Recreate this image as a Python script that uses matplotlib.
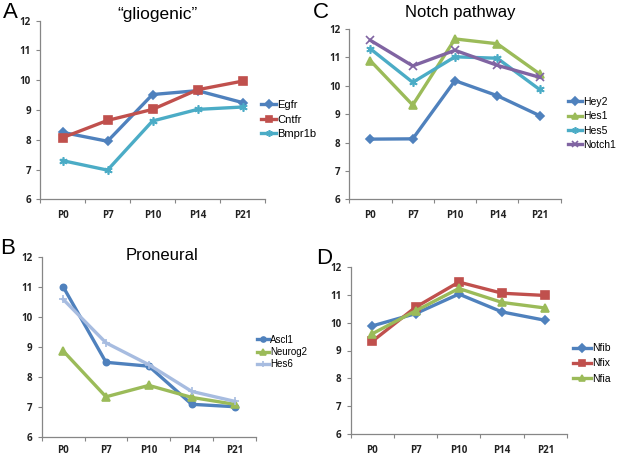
import matplotlib
matplotlib.use("Agg")
import matplotlib.pyplot as plt
from matplotlib.ticker import FixedLocator, NullFormatter, FixedFormatter

plt.rcParams['font.family'] = ['Liberation Sans', 'DejaVu Sans']

categories = ["P0", "P7", "P10", "P14", "P21"]

# Panel A - "gliogenic"
egfr = [8.25, 7.95, 9.52, 9.65, 9.25]
cntfr = [8.07, 8.65, 9.02, 9.68, 9.97]
bmpr1b = [7.30, 6.98, 8.63, 9.02, 9.10]

# Panel C - Notch pathway
hey2 = [8.12, 8.13, 10.18, 9.65, 8.95]
hes1 = [10.88, 9.32, 11.65, 11.48, 10.42]
hes5 = [11.30, 10.12, 11.02, 10.97, 9.87]
notch1 = [11.60, 10.70, 11.25, 10.72, 10.30]

# Panel B - Proneural
ascl1 = [11.02, 8.50, 8.37, 7.10, 7.02]
neurog2 = [8.88, 7.35, 7.73, 7.33, 7.10]
hes6 = [10.60, 9.15, 8.42, 7.53, 7.20]

# Panel D
nfib = [9.88, 10.32, 11.02, 10.38, 10.08]
nfix = [9.33, 10.55, 11.45, 11.05, 10.97]
nfia = [9.60, 10.42, 11.22, 10.72, 10.52]

yticks = [6, 7, 8, 9, 10, 11, 12]

BLUE = '#4F81BD'
RED = '#C0504D'
GREEN = '#9BBB59'
AQUA = '#4BACC6'
PURPLE = '#8064A2'
LBLUE = '#A7BCE0'

W, H = 617, 459
fig = plt.figure(figsize=(W / 100, H / 100), dpi=100)


def make_ax(x0, x1, ytop, ybot, xpad):
    ax = fig.add_axes([x0 / W, 1 - ybot / H, (x1 - x0) / W, (ybot - ytop) / H])
    n = len(categories)
    ax.set_xlim(-0.5, n - 0.5)
    ax.set_ylim(6, 12)
    ax.xaxis.set_major_locator(FixedLocator([i - 0.5 for i in range(n + 1)]))
    ax.xaxis.set_major_formatter(NullFormatter())
    ax.xaxis.set_minor_locator(FixedLocator(list(range(n))))
    ax.xaxis.set_minor_formatter(FixedFormatter(categories))
    ax.tick_params(axis='x', which='minor', length=0, pad=xpad, labelsize=7, labelcolor='#222222')
    ax.tick_params(axis='x', which='major', length=3, direction='out', color='#868686')
    ax.set_yticks(yticks)
    ax.tick_params(axis='y', length=3, direction='out', color='#868686', labelsize=7,
                   labelcolor='#222222', pad=3.5)
    for lab in ax.get_xticklabels(minor=True) + ax.get_yticklabels():
        lab.set_fontweight('bold')
        lab.set_family(['Open Sans', 'DejaVu Sans'])
    for s in ['top', 'right']:
        ax.spines[s].set_visible(False)
    for s in ['left', 'bottom']:
        ax.spines[s].set_color('#868686')
        ax.spines[s].set_linewidth(0.9)
    return ax


def plot(ax, vals, color, marker, label, ms=5.5):
    ax.plot(range(len(vals)), vals, color=color, lw=2.4, marker=marker, ms=ms,
            mec=color, mfc=color, mew=1.2, label=label, solid_joinstyle='round')


def legend(ax, x, yc, fs, ls, hl):
    fig.legend(handles=ax.get_lines(), loc='center left', bbox_to_anchor=(x / W, 1 - yc / H),
               frameon=False, fontsize=fs, handlelength=hl, handletextpad=0.1,
               labelspacing=ls, borderpad=0, borderaxespad=0, markerscale=0.8)


# Panel A
axA = make_ax(40, 265, 20.7, 199.3, 7.5)
plot(axA, egfr, BLUE, 'D', 'Egfr', 4.5)
plot(axA, cntfr, RED, 's', 'Cntfr', 6)
plot(axA, bmpr1b, AQUA, (6, 2, 0), 'Bmpr1b', 6)
legend(axA, 261, 119.5, 8, 0.42, 1.35)

# Panel C
axC = make_ax(349.3, 560.7, 29, 199.3, 7.5)
plot(axC, hey2, BLUE, 'D', 'Hey2', 4.5)
plot(axC, hes1, GREEN, '^', 'Hes1', 6)
plot(axC, hes5, AQUA, (6, 2, 0), 'Hes5', 6)
plot(axC, notch1, PURPLE, 'x', 'Notch1', 6)
legend(axC, 568, 123.5, 7.5, 0.41, 1.35)

# Panel B
axB = make_ax(41.7, 256, 257.3, 437.3, 5.5)
plot(axB, ascl1, BLUE, 'o', 'Ascl1', 4.5)
plot(axB, neurog2, GREEN, '^', 'Neurog2', 6)
plot(axB, hes6, LBLUE, '+', 'Hes6', 6)
legend(axB, 257, 352, 7, 0.22, 1.25)

# Panel D
axD = make_ax(350.7, 567, 266.7, 434.3, 8)
plot(axD, nfib, BLUE, 'D', 'Nfib', 4.5)
plot(axD, nfix, RED, 's', 'Nfix', 6)
plot(axD, nfia, GREEN, '^', 'Nfia', 6)
legend(axD, 573, 363.5, 7.5, 0.5, 1.7)

# Titles
fig.text(157 / W, 1 - 14 / H, '\u201cgliogenic\u201d', ha='center', va='center', fontsize=12.5)
fig.text(460 / W, 1 - 12 / H, 'Notch pathway', ha='center', va='center', fontsize=12)
fig.text(162 / W, 1 - 256 / H, 'Proneural', ha='center', va='center', fontsize=12)

# Panel letters
for x, y, s in [(10, 13, 'A'), (321, 13, 'C'), (8, 248, 'B'), (324, 258, 'D')]:
    fig.text(x / W, 1 - y / H, s, ha='center', va='center', fontsize=16)

fig.savefig('out.png', dpi=100, facecolor='white')
